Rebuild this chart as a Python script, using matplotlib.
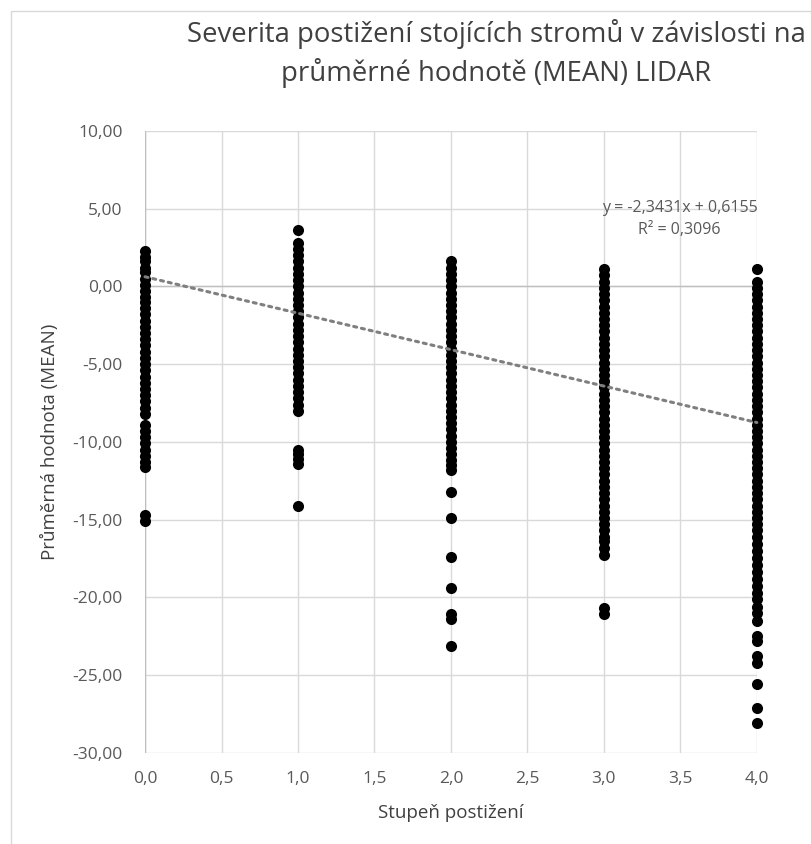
import numpy as np
import matplotlib.pyplot as plt
from matplotlib.patches import Rectangle

# stupeň postižení -> hodnoty MEAN
mean_0 = [2.3, 1.9, 1.6, 1.2, 0.9, 0.5, 0.1, -0.3, -0.7, -1.0, -1.4, -1.8, -2.2,
          -2.6, -3.0, -3.4, -3.8, -4.2, -4.6, -5.0, -5.4, -5.8, -6.2, -6.6, -7.0,
          -7.4, -7.8, -8.2, -8.9, -9.3, -9.7, -10.1, -10.5, -10.9, -11.3, -11.6,
          -14.7, -15.1]
mean_1 = [3.6, 2.8, 2.4, 2.0, 1.6, 1.2, 0.8, 0.4, 0.0, -0.4, -0.8, -1.2, -1.6,
          -2.0, -2.4, -2.8, -3.2, -3.6, -4.0, -4.4, -4.8, -5.2, -5.6, -6.0, -6.4,
          -6.8, -7.2, -7.6, -8.0, -10.5, -10.8, -11.1, -11.4, -14.1]
mean_2 = [1.6, 1.2, 0.8, 0.4, 0.0, -0.4, -0.8, -1.2, -1.6, -2.0, -2.4, -2.8,
          -3.2, -3.6, -4.0, -4.4, -4.8, -5.2, -5.6, -6.0, -6.4, -6.8, -7.2, -7.6,
          -8.0, -8.4, -8.8, -9.2, -9.6, -10.0, -10.4, -10.8, -11.2, -11.5, -11.8,
          -13.2, -14.9, -17.4, -19.4, -21.1, -21.4, -23.1]
mean_3 = [1.1, 0.7, 0.3, -0.1, -0.5, -0.9, -1.3, -1.7, -2.1, -2.5, -2.9, -3.3,
          -3.7, -4.1, -4.5, -4.9, -5.3, -5.7, -6.1, -6.5, -6.9, -7.3, -7.7, -8.1,
          -8.5, -8.9, -9.3, -9.7, -10.1, -10.5, -10.9, -11.3, -11.7, -12.1, -12.5,
          -12.9, -13.3, -13.7, -14.1, -14.5, -14.9, -15.3, -15.7, -16.1, -16.4,
          -16.8, -17.3, -20.7, -21.1]
mean_4 = [1.1, 0.3, -0.1, -0.5, -0.9, -1.3, -1.7, -2.1, -2.5, -2.9, -3.3, -3.7,
          -4.1, -4.5, -4.9, -5.3, -5.7, -6.1, -6.5, -6.9, -7.3, -7.7, -8.1, -8.5,
          -8.9, -9.3, -9.7, -10.1, -10.5, -10.9, -11.3, -11.7, -12.1, -12.5,
          -12.9, -13.3, -13.7, -14.1, -14.5, -14.9, -15.3, -15.7, -16.1, -16.6,
          -17.0, -17.5, -17.9, -18.4, -18.8, -19.3, -19.7, -20.1, -20.6, -21.0,
          -21.5, -22.5, -22.8, -23.8, -24.2, -25.6, -27.1, -28.1]
groups = [0, 1, 2, 3, 4]
series = [mean_0, mean_1, mean_2, mean_3, mean_4]

# spojnice trendu z Excelu
slope = -2.3431
intercept = 0.6155
r2 = 0.3096

plt.rcParams['font.family'] = ['Open Sans', 'DejaVu Sans']

fig = plt.figure(figsize=(8.12, 8.44), dpi=100)
ax = fig.add_axes([0.1786, 0.108, 0.7535, 0.737])

# rámeček grafu
fig.patches.append(Rectangle((11 / 812, -0.1), 1.2, 1.1 - 11 / 844, transform=fig.transFigure,
                             fill=False, edgecolor='#d9d9d9', linewidth=1))

for g, vals in zip(groups, series):
    ax.scatter(np.full(len(vals), g), vals, s=64, color='black', zorder=3,
               linewidths=0, clip_on=False)

xt = np.array([0, 4])
ax.plot(xt, slope * xt + intercept, linestyle=(0, (1, 1.6)), color='#7f7f7f',
        linewidth=2.2, dash_capstyle='round', zorder=4, clip_on=False)

ax.set_xlim(0, 4)
ax.set_ylim(-30, 10)
ax.set_xticks(np.arange(0, 4.01, 0.5))
ax.set_yticks(np.arange(-30, 10.01, 5))
ax.set_xticklabels([f'{v:.1f}'.replace('.', ',') for v in np.arange(0, 4.01, 0.5)])
ax.set_yticklabels([f'{v:.2f}'.replace('.', ',') for v in np.arange(-30, 10.01, 5)])
ax.grid(True, color='#d9d9d9', linewidth=1)
ax.set_axisbelow(True)
for sp in ax.spines.values():
    sp.set_visible(False)
ax.axhline(0, color='#bfbfbf', linewidth=1, zorder=1)
ax.axvline(0, color='#bfbfbf', linewidth=1, zorder=1)
ax.tick_params(length=0, labelsize=12.5, labelcolor='#595959')
ax.tick_params(axis='x', pad=13)
ax.tick_params(axis='y', pad=16)

ax.set_xlabel('Stupeň postižení', fontsize=13.5, color='#404040', labelpad=12)
ax.set_ylabel('Průměrná hodnota (MEAN)', fontsize=13.5, color='#404040', labelpad=10)

fig.text(0.611, 0.977, 'Severita postižení stojících stromů v závislosti na\nprůměrné hodnotě (MEAN) LIDAR',
         ha='center', va='top', fontsize=19.8, color='#404040', linespacing=1.38)

ax.text(0.837, 0.754, f'y = {slope:.4f}x + {intercept:.4f}'.replace('.', ','),
        transform=fig.transFigure, ha='center', va='center', fontsize=11.5, color='#595959')
ax.text(0.837, 0.727, f'R² = {r2:.4f}'.replace('.', ','),
        transform=fig.transFigure, ha='center', va='center', fontsize=11.5, color='#595959')

fig.savefig('out.png', dpi=100)
